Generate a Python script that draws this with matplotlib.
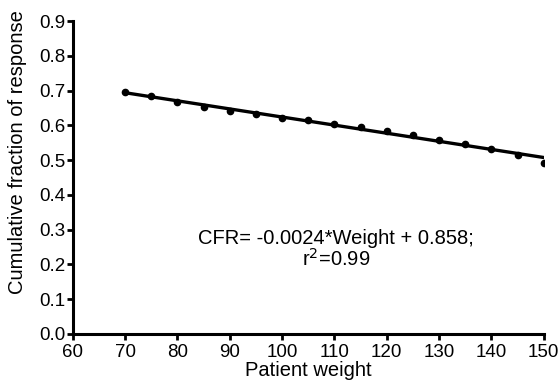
import numpy as np
import matplotlib
matplotlib.use("Agg")
import matplotlib.pyplot as plt

plt.rcParams['font.family'] = ['Liberation Sans', 'DejaVu Sans']

weight = [70, 75, 80, 85, 90, 95, 100, 105, 110, 115, 120, 125, 130, 135, 140, 145, 150]
cfr = [0.695, 0.684, 0.666, 0.652, 0.642, 0.634, 0.622, 0.615, 0.605, 0.596,
       0.584, 0.573, 0.559, 0.547, 0.531, 0.514, 0.493]
fit_text = "CFR= -0.0024*Weight + 0.858;\nr$^2$=0.99"

fig = plt.figure(figsize=(5.6, 3.83), dpi=100)
ax = fig.add_axes([0.130, 0.128, 0.841, 0.817])

w = np.array(weight)
slope, icpt = np.polyfit(w, cfr, 1)
ax.plot(w, slope * w + icpt, color="black", lw=2.4, zorder=2)
ax.plot(w, cfr, "o", color="black", ms=4.5, zorder=3)

ax.set_xlim(60, 150)
ax.set_ylim(0, 0.9)
ax.set_xticks(np.arange(60, 151, 10))
ax.set_yticks(np.arange(0, 0.91, 0.1))
ax.set_yticklabels(["%.1f" % v for v in np.arange(0, 0.91, 0.1)])

for s in ["top", "right"]:
    ax.spines[s].set_visible(False)
for s in ["left", "bottom"]:
    ax.spines[s].set_linewidth(2.2)
ax.tick_params(direction="out", length=4, width=2, labelsize=13.5, pad=1)
ax.tick_params(axis="x", pad=3)

ax.set_xlabel("Patient weight", fontsize=14.5, labelpad=0)
ax.set_ylabel("Cumulative fraction of response", fontsize=14.5)
ax.yaxis.set_label_coords(-0.097, 0.58)

ax.text(110.3, 0.242, fit_text, ha="center", va="center", fontsize=14.5, linespacing=1.0)

fig.savefig("out.png", dpi=100)
